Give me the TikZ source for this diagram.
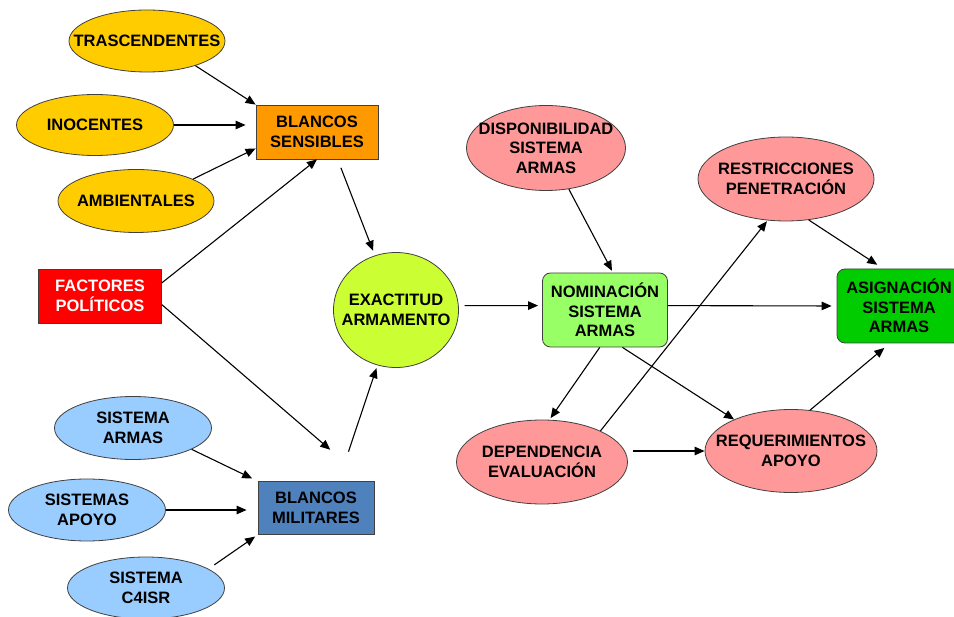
\documentclass[tikz,border=0pt]{standalone}
\usepackage{fontspec}
\setmainfont{Liberation Sans}
\usetikzlibrary{shapes.geometric,arrows.meta}
\definecolor{cyel}{HTML}{FFCC00}
\definecolor{corange}{HTML}{FF9900}
\definecolor{cred}{HTML}{FF0000}
\definecolor{clime}{HTML}{CCFF33}
\definecolor{cblue}{HTML}{99CCFF}
\definecolor{csteel}{HTML}{4F81BD}
\definecolor{cpink}{HTML}{FF9999}
\definecolor{clgreen}{HTML}{99FF66}
\definecolor{cgreen}{HTML}{00CC00}
\definecolor{cline}{HTML}{404040}
\begin{document}
\begin{tikzpicture}[x=1pt,y=-1pt,
  txt/.style={font=\fontsize{16.5}{19.5}\selectfont\bfseries, align=center, draw=cline, line width=0.8pt},
  ell/.style={txt, ellipse, inner xsep=-60pt, inner ysep=-30pt},
  box/.style={txt, rectangle, inner sep=0pt},
  rbox/.style={box, rounded corners=8pt},
  arr/.style={-{Triangle[length=10pt,width=8.5pt]}, line width=1.1pt, black},
]
\useasboundingbox (0,0) rectangle (954,617);

% left column
\node[ell, fill=cyel, minimum width=156pt, minimum height=62pt] (tras) at (147,41) {TRASCENDENTES};
\node[ell, fill=cyel, minimum width=157pt, minimum height=61pt] (inoc) at (95,125) {INOCENTES};
\node[ell, fill=cyel, minimum width=156pt, minimum height=63pt] (amb) at (136,201) {AMBIENTALES};
\node[box, fill=corange, minimum width=122pt, minimum height=54pt] (bs) at (317,132) {BLANCOS\\SENSIBLES};
\node[box, fill=cred, text=white, minimum width=123pt, minimum height=54pt] (fp) at (100,296) {FACTORES\\POLÍTICOS};
\node[ell, fill=clime, minimum width=125pt, minimum height=115pt] (exact) at (396,310) {EXACTITUD\\ARMAMENTO};
\node[ell, fill=cblue, minimum width=157pt, minimum height=63pt] (sa) at (133,428) {SISTEMA\\ARMAS};
\node[ell, fill=cblue, minimum width=157pt, minimum height=62pt] (sap) at (87,510) {SISTEMAS\\APOYO};
\node[ell, fill=cblue, minimum width=157pt, minimum height=62pt] (c4) at (146,588) {SISTEMA\\C4ISR};
\node[box, fill=csteel, minimum width=116pt, minimum height=53pt] (bm) at (316,508) {BLANCOS\\MILITARES};

% right part
\node[ell, fill=cpink, minimum width=159pt, minimum height=85pt] (disp) at (546,148) {DISPONIBILIDAD\\SISTEMA\\ARMAS};
\node[ell, fill=cpink, minimum width=176pt, minimum height=84pt] (restr) at (786,179) {RESTRICCIONES\\PENETRACIÓN};
\node[rbox, fill=clgreen, minimum width=125pt, minimum height=74pt] (nom) at (605,310) {NOMINACIÓN\\SISTEMA\\ARMAS};
\node[rbox, fill=cgreen, minimum width=124pt, minimum height=74pt] (asig) at (899,306) {ASIGNACIÓN\\SISTEMA\\ARMAS};
\node[ell, fill=cpink, minimum width=171pt, minimum height=84pt] (dep) at (542,462) {DEPENDENCIA\\EVALUACIÓN};
\node[ell, fill=cpink, minimum width=172pt, minimum height=83pt] (req) at (791,451) {REQUERIMIENTOS\\APOYO};

% connectors
\draw[arr] (tras.-27) -- (bs.north west);
\draw[arr, shorten >=10pt] (inoc) -- (inoc -| bs.west);
\draw[arr] (amb.21) -- (bs.195);
\draw[arr] (fp.12) -- (bs.south);
\draw[arr, shorten >=48pt] (fp.-8) -- (bm.28);
\draw[arr, shorten <=9pt, shorten >=5pt] (bs.-53.5) -- (exact);
\draw[arr, shorten <=31pt, shorten >=3pt] (bm.50) -- (exact);
\draw[arr, shorten >=6pt] (sa.-20) -- (bm.north west);
\draw[arr, shorten >=11pt] (sap) -- (sap -| bm.west);
\draw[arr, shorten <=7pt, shorten >=3pt] (c4.17) -- (bm.south west);
\draw[arr, shorten <=6pt, shorten >=4pt] (exact.4) -- (nom.176);
\draw[arr, shorten >=2pt] (disp.-61) -- (nom.78);
\draw[arr, shorten >=5pt] (nom.4.6) -- (asig.180);
\draw[arr, shorten >=7pt] (restr.-61) -- (asig.113);
\draw[arr, shorten >=1pt] (dep.28) -- (restr.-114);
\draw[arr, shorten >=2pt] (nom.-98) -- (dep.80);
\draw[arr] (nom.-65) -- (req.151);
\draw[arr, shorten <=5pt] (dep.east |- req.west) -- (req.west);
\draw[arr, shorten >=7pt] (req.65) -- (asig.-104);
\end{tikzpicture}
\end{document}
